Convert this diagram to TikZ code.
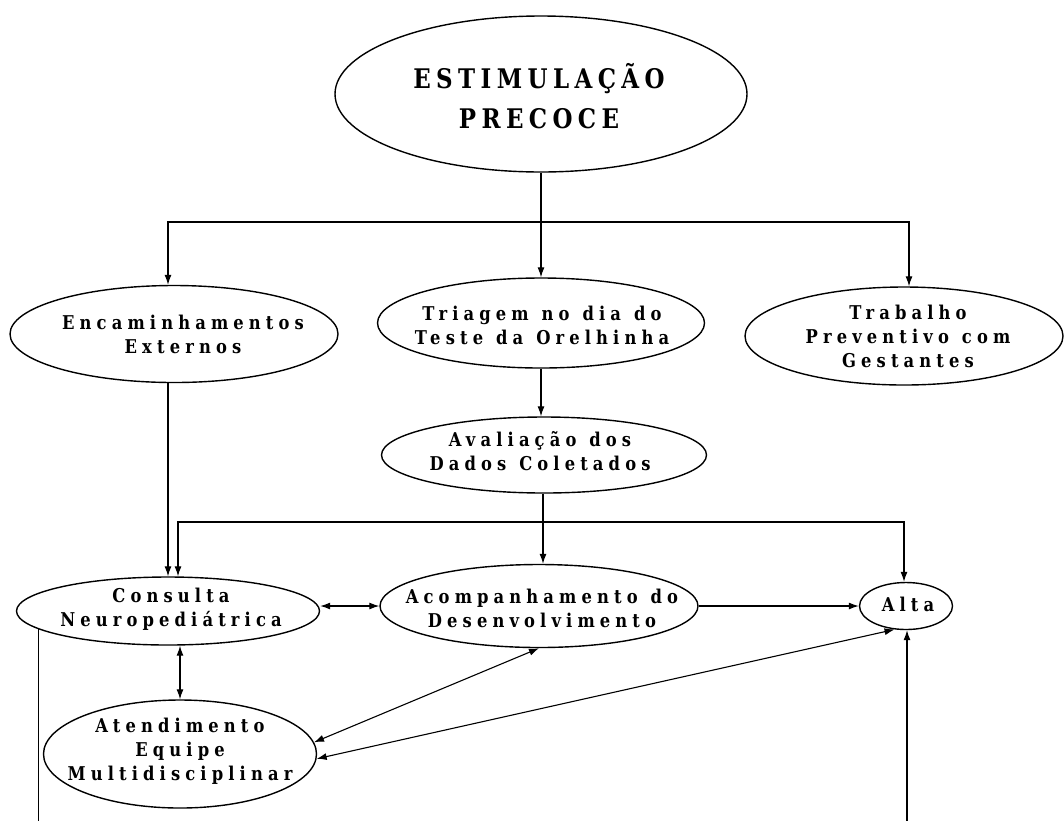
\documentclass[tikz,border=0pt]{standalone}
\usepackage{fontspec}
\usetikzlibrary{shapes.geometric,arrows.meta}
\newfontfamily\lblfont{DejaVu Serif}[FakeStretch=0.86,LetterSpace=27,WordSpace=1.2]
\newfontfamily\ttlfont{DejaVu Serif}[FakeStretch=0.85,LetterSpace=20]
\tikzset{
  oval/.style={draw, ellipse, line width=1.4pt, inner sep=0pt},
  lbl/.style={font=\lblfont\bfseries\fontsize{19}{24}\selectfont, align=center, inner sep=0pt},
  ttl/.style={font=\ttlfont\bfseries\fontsize{27}{40}\selectfont, align=center, inner sep=0pt},
  conn/.style={line width=1.1pt},
  arr/.style={conn, -{Latex[length=10pt,width=7pt]}},
  darr/.style={conn, {Latex[length=10pt,width=7pt]}-{Latex[length=10pt,width=7pt]}},
}
\begin{document}
\begin{tikzpicture}[x=1pt,y=-1pt]
\useasboundingbox[fill=white] (0,0) rectangle (1064,820);

% ellipses
\node[oval, minimum width=412pt, minimum height=156pt] (est) at (541,94) {};
\node[oval, minimum width=328pt, minimum height=97pt] (enc) at (174,334) {};
\node[oval, minimum width=327pt, minimum height=90pt] (tri) at (541,323) {};
\node[oval, minimum width=318pt, minimum height=98pt] (trab) at (904,336) {};
\node[oval, minimum width=325pt, minimum height=76pt] (ava) at (544,455) {};
\node[oval, minimum width=303pt, minimum height=68pt] (con) at (168,611) {};
\node[oval, minimum width=318pt, minimum height=83pt] (aco) at (539,606) {};
\node[oval, minimum width=93pt, minimum height=47pt] (alta) at (906,606) {};
\node[oval, minimum width=273pt, minimum height=108pt] (ate) at (180,754) {};

% texts
\node[ttl] (est-t) at (539,96) {ESTIMULAÇÃO\\PRECOCE};
\node[lbl] (enc-t) at (183,334) {Encaminhamentos\\Externos};
\node[lbl] (tri-t) at (542,325) {Triagem no dia do\\Teste da Orelhinha};
\node[lbl] (trab-t) at (908,336) {Trabalho\\Preventivo com\\Gestantes};
\node[lbl] (ava-t) at (540,451) {Avaliação dos\\Dados Coletados};
\node[lbl] (con-t) at (171,609) {Consulta\\Neuropediátrica};
\node[lbl] (aco-t) at (542,608) {Acompanhamento do\\Desenvolvimento};
\node[lbl] (alta-t) at (908,604) {Alta};
\node[lbl] (ate-t) at (180,751) {Atendimento\\Equipe\\Multidisciplinar};

% helper coordinates
\coordinate (j1) at (541,222);
\coordinate (jl) at (168,222);
\coordinate (jr) at (909,222);
\coordinate (vM) at (543,0);
\coordinate (bm) at (543,522);
\coordinate (b1) at (178,522);
\coordinate (b2) at (904,522);
\coordinate (bl) at (0,821);
\coordinate (br) at (907,821);

% top distribution
\draw[conn] (est.south) -- (j1);
\draw[arr] (j1) -- (jl) -- (jl |- enc.north);
\draw[arr] (j1) -- (jr) -- (jr |- trab.north);
\draw[arr] (j1) -- (tri.north);

\draw[arr] (tri.south) -- (tri.south |- ava.north);
\draw[arr] (jl |- enc.south) -- (jl |- con.north);

\draw[arr] (vM |- ava.south) -- (vM |- aco.north);
\draw[arr] (bm) -- (b1) -- (b1 |- con.north);
\draw[arr] (bm) -- (b2) -- (b2 |- alta.north);

% lower connectors
\draw[darr] (con.east |- aco.west) -- (aco.west);
\draw[arr] (aco.east) -- (alta.west);
\draw[darr] (ate.north |- con.south) -- (ate.north);
\draw[darr] (ate.5) -- (aco.south);
\draw[darr] (ate.-2) -- (alta.244);

% outgoing lines at the bottom
\draw[conn] (con.188) -- (con.188 |- bl);
\draw[arr] (br) -- (br |- alta.south);
\end{tikzpicture}
\end{document}
